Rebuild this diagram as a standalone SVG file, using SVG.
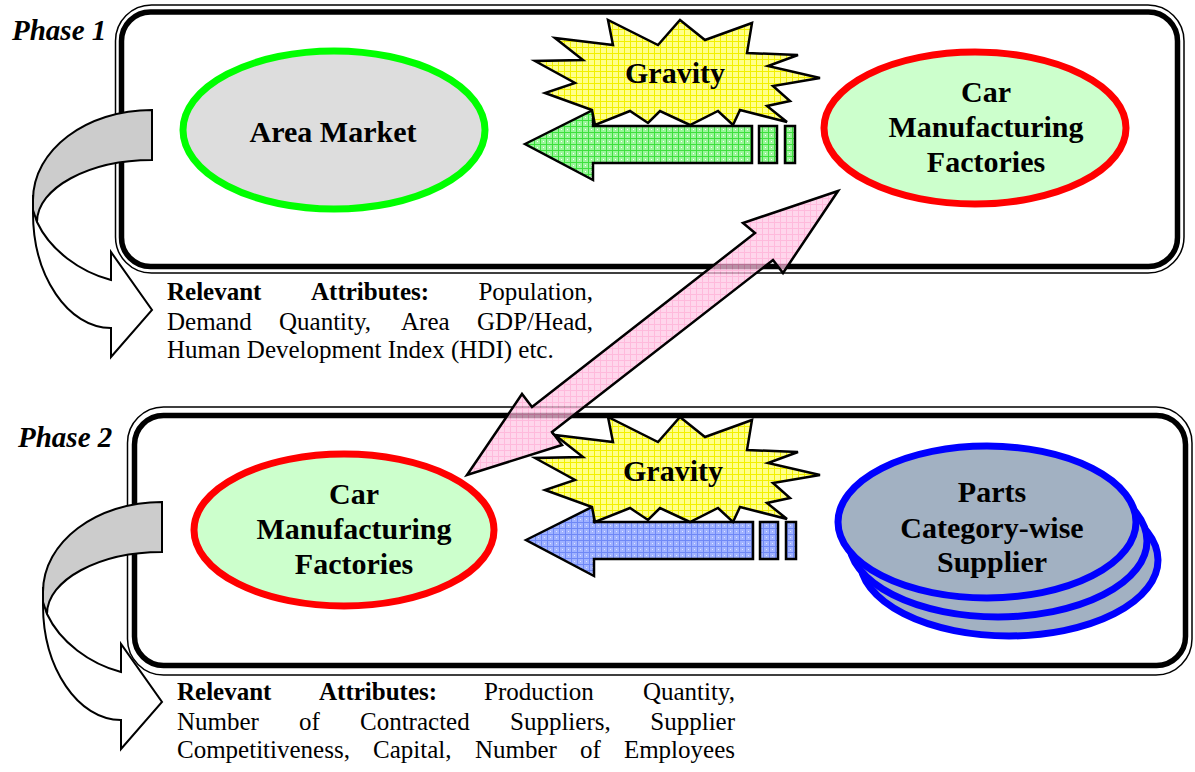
<svg xmlns="http://www.w3.org/2000/svg" width="1195" height="772" viewBox="0 0 1195 772">
  <defs>
    <style>
      .frame-outer { fill: none; stroke: #000; stroke-width: 1.5; }
      .frame-inner { fill: none; stroke: #000; stroke-width: 5.5; }
      .phase { font-family: "Liberation Serif", "Times New Roman", serif; font-size: 29px; font-weight: bold; font-style: italic; fill: #000; }
      .label { font-family: "Liberation Serif", "Times New Roman", serif; font-size: 30px; font-weight: bold; fill: #000; text-anchor: middle; }
      .para { font-family: "Liberation Serif", "Times New Roman", serif; font-size: 25px; fill: #000; }
      .para .b { font-weight: bold; }
      .edge { stroke: #000; stroke-width: 2.5; stroke-linejoin: miter; }
      .curl { stroke: #000; stroke-width: 2; stroke-linejoin: miter; }
    </style>
    <pattern id="gridYellow" width="6" height="6" patternUnits="userSpaceOnUse">
      <rect width="6" height="6" fill="#ffff8a"/>
      <path d="M0 0.5H6M0.5 0V6" stroke="#f2f000" stroke-width="1"/>
    </pattern>
    <pattern id="gridGreen" width="6" height="6" patternUnits="userSpaceOnUse">
      <rect width="6" height="6" fill="#9af59a"/>
      <path d="M0 0.5H6M0.5 0V6" stroke="#3ee03e" stroke-width="1"/>
      <rect x="3" y="3" width="1" height="1" fill="#ffffff"/>
    </pattern>
    <pattern id="gridBlue" width="6" height="6" patternUnits="userSpaceOnUse">
      <rect width="6" height="6" fill="#a0b2ff"/>
      <path d="M0 0.5H6M0.5 0V6" stroke="#6f88f6" stroke-width="1"/>
      <rect x="3" y="3" width="1" height="1" fill="#dfe6ff"/>
    </pattern>
    <pattern id="gridPink" width="6" height="6" patternUnits="userSpaceOnUse">
      <rect width="6" height="6" fill="#ffc6e4"/>
      <path d="M0 0.5H6M0.5 0V6" stroke="#ff9fcf" stroke-width="1"/>
    </pattern>
    <!-- explosion shape, drawn at its Phase 2 position -->
    <path id="burst" d="M555,435 L613,442 L608,417 L658,442 L680,417 L705,437 L752,420 L747,450 L798,452 L768,463 L820,475 L773,483 L790,498 L767,503 L787,519 L740,507 L733,522 L718,508 L690,522 L660,508 L648,520 L630,508 L595,522 L592,507 L545,490 L575,480 L535,458 L583,457 Z"/>
    <!-- left-pointing block arrow with trailing bars, Phase 1 position -->
    <g id="blockArrow">
      <path d="M525,144 L593,110 L593,126 L752,126 L752,163 L593,163 L593,180 Z"/>
      <rect x="759" y="126" width="18" height="37"/>
      <rect x="785" y="126" width="10" height="37"/>
    </g>
    <!-- curled ribbon arrow, Phase 1 position -->
    <g id="curl">
      <path fill="#ffffff" d="M33,195 L33,213 C33,276 68,328 111,328 L111,357 L152,310 L111,252 L111,280 C80,272 50,250 37,222 Z"/>
      <path fill="#cccccc" d="M152,110 C86,110 33,150 33,200 L33,210 L37,222 C37,188 89,160 152,160 Z"/>
    </g>
  </defs>

  <rect width="1195" height="772" fill="#ffffff"/>

  <!-- Phase frames -->
  <g id="phase1-frame">
    <rect class="frame-outer" x="115.5" y="5" width="1068.5" height="268" rx="36"/>
    <rect class="frame-inner" x="121.5" y="12" width="1056" height="254.5" rx="29"/>
    <text class="phase" x="12" y="40">Phase 1</text>
  </g>
  <g id="phase2-frame">
    <rect class="frame-outer" x="127.5" y="407" width="1064.5" height="268" rx="36"/>
    <rect class="frame-inner" x="134.5" y="415.5" width="1051" height="250" rx="29"/>
    <text class="phase" x="18" y="447">Phase 2</text>
  </g>

  <!-- Connectors -->
  <g id="connectors">
    <use href="#curl" class="curl"/>
    <use href="#curl" class="curl" transform="translate(10,392)"/>
    <use href="#blockArrow" class="edge" fill="url(#gridGreen)"/>
    <use href="#blockArrow" class="edge" fill="url(#gridBlue)" transform="translate(1,396)"/>
  </g>

  <!-- Nodes -->
  <g id="area-market">
    <ellipse cx="334" cy="130" rx="151" ry="79" fill="#dddddd" stroke="#00ff00" stroke-width="7"/>
    <text class="label" x="333" y="142">Area Market</text>
  </g>
  <g id="car-factories-1">
    <ellipse cx="975" cy="128" rx="151" ry="76" fill="#ccffcc" stroke="#ff0000" stroke-width="7"/>
    <text class="label" x="986" y="102">Car</text>
    <text class="label" x="986" y="137">Manufacturing</text>
    <text class="label" x="986" y="172">Factories</text>
  </g>
  <g id="car-factories-2">
    <ellipse cx="344" cy="530" rx="150" ry="76" fill="#ccffcc" stroke="#ff0000" stroke-width="7"/>
    <text class="label" x="354" y="504">Car</text>
    <text class="label" x="354" y="539">Manufacturing</text>
    <text class="label" x="354" y="574">Factories</text>
  </g>
  <g id="parts-suppliers">
    <ellipse cx="1009" cy="560" rx="149" ry="76" fill="#a2b1c2" stroke="#0000ff" stroke-width="7"/>
    <ellipse cx="998" cy="541" rx="149" ry="76" fill="#a2b1c2" stroke="#0000ff" stroke-width="7"/>
    <ellipse cx="987" cy="522" rx="149" ry="76" fill="#a2b1c2" stroke="#0000ff" stroke-width="7"/>
    <text class="label" x="992" y="502">Parts</text>
    <text class="label" x="992" y="538">Category-wise</text>
    <text class="label" x="992" y="572">Supplier</text>
  </g>

  <!-- Link between the two phases -->
  <g id="phase-link">
    <path d="M838,191 L743,223 L755,233 L532,407 L522,394 L467,475 L562,445 L552,432 L773,260 L783,273 Z" fill="url(#gridPink)" fill-opacity="0.72" class="edge"/>
  </g>

  <!-- Gravity bursts -->
  <g id="gravity-1">
    <use href="#burst" class="edge" fill="url(#gridYellow)" transform="translate(0,-397)"/>
    <text class="label" x="675" y="83">Gravity</text>
  </g>
  <g id="gravity-2">
    <use href="#burst" class="edge" fill="url(#gridYellow)"/>
    <text class="label" x="673" y="481">Gravity</text>
  </g>

  <!-- Attribute notes (justified lines) -->
  <g id="attributes-1" class="para">
    <text x="167" y="300"><tspan class="b">Relevant</tspan></text>
    <text x="311" y="300"><tspan class="b">Attributes:</tspan></text>
    <text x="593" y="300" text-anchor="end">Population,</text>
    <text x="167" y="330">Demand</text>
    <text x="279" y="330">Quantity,</text>
    <text x="401" y="330">Area</text>
    <text x="593" y="330" text-anchor="end">GDP/Head,</text>
    <text x="167" y="358">Human Development Index (HDI) etc.</text>
  </g>
  <g id="attributes-2" class="para">
    <text x="177" y="700"><tspan class="b">Relevant</tspan></text>
    <text x="319" y="700"><tspan class="b">Attributes:</tspan></text>
    <text x="484" y="700">Production</text>
    <text x="735" y="700" text-anchor="end">Quantity,</text>
    <text x="177" y="730">Number</text>
    <text x="299" y="730">of</text>
    <text x="360" y="730">Contracted</text>
    <text x="510" y="730">Suppliers,</text>
    <text x="735" y="730" text-anchor="end">Supplier</text>
    <text x="177" y="758">Competitiveness,</text>
    <text x="373" y="758">Capital,</text>
    <text x="475" y="758">Number</text>
    <text x="580" y="758">of</text>
    <text x="735" y="758" text-anchor="end">Employees</text>
  </g>
</svg>
